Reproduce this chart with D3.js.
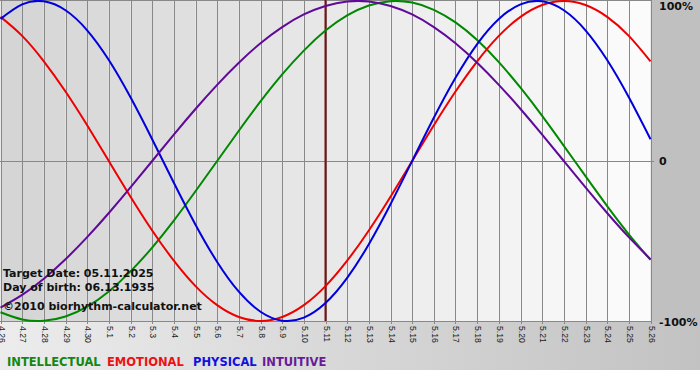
<!DOCTYPE html>
<html><head><meta charset="utf-8">
<script src="https://cdn.jsdelivr.net/npm/d3@7"></script>
<style>html,body{margin:0;padding:0;background:#fff;}svg{display:block;}</style>
</head><body>
<script>
const dayLabels = ["4.26","4.27","4.28","4.29","4.30","5.1","5.2","5.3","5.4","5.5","5.6","5.7","5.8","5.9","5.10","5.11","5.12","5.13","5.14","5.15","5.16","5.17","5.18","5.19","5.20","5.21","5.22","5.23","5.24","5.25","5.26"];
const physical = [88.8,97.9,99.8,94.2,81.7,63.1,39.8,13.6,-13.6,-39.8,-63.1,-81.7,-94.2,-99.8,-97.9,-88.8,-73.1,-52.0,-27.0,0,27.0,52.0,73.1,88.8,97.9,99.8,94.2,81.7,63.1,39.8,13.6];
const emotional = [90.1,78.2,62.3,43.4,22.3,0,-22.3,-43.4,-62.3,-78.2,-90.1,-97.5,-100,-97.5,-90.1,-78.2,-62.3,-43.4,-22.3,0,22.3,43.4,62.3,78.2,90.1,97.5,100,97.5,90.1,78.2,62.3];
const intellectual = [-94.5,-99.0,-99.9,-97.2,-91.0,-81.5,-69.0,-54.1,-37.2,-18.9,0,18.9,37.2,54.1,69.0,81.5,91.0,97.2,99.9,99.0,94.5,86.6,75.6,61.8,45.8,28.2,9.5,-9.5,-28.2,-45.8,-61.8];
const intuitive = [-91.6,-83.7,-73.6,-61.4,-47.6,-32.5,-16.5,0,16.5,32.5,47.6,61.4,73.6,83.7,91.6,96.9,99.7,99.7,96.9,91.6,83.7,73.6,61.4,47.6,32.5,16.5,0,-16.5,-32.5,-47.6,-61.4];
const percentTicks = [100, 0, -100];
const percentLabels = ["100%", "0", "-100%"];
const targetIndex = 15;
const infoLines = ["Target Date: 05.11.2025", "Day of birth: 06.13.1935", "\u00a92010 biorhythm-calculator.net"];
const legendNames = ["INTELLECTUAL", "EMOTIONAL", "PHYSICAL", "INTUITIVE"];

const W = 700, H = 380;
const pLeft = 0.5, pRight = 650.5, pTop = 1, pBottom = 321;
const x = d3.scaleLinear().domain([0, dayLabels.length - 1]).range([pLeft, pRight]);
const y = d3.scaleLinear().domain([-100, 100]).range([pBottom, pTop]);

const svg = d3.select("body").append("svg").attr("width", W).attr("height", H);

// backgrounds
const defs = svg.append("defs");
const g1 = defs.append("linearGradient").attr("id", "bottomGrad").attr("x1", "0").attr("x2", "1").attr("y1", "0").attr("y2", "0");
g1.append("stop").attr("offset", "0").attr("stop-color", "#ececec");
g1.append("stop").attr("offset", "1").attr("stop-color", "#c2c2c2");
svg.append("rect").attr("x", 0).attr("y", pBottom).attr("width", W).attr("height", 370 - pBottom).attr("fill", "url(#bottomGrad)");
svg.append("rect").attr("x", pRight).attr("y", 0).attr("width", W - pRight).attr("height", pBottom).attr("fill", "#c0c0c0");

const shade = d3.interpolateRgb("#d5d5d5", "#fbfbfb");
const cols = d3.range(dayLabels.length - 1);
svg.append("g").selectAll("rect").data(cols).join("rect")
  .attr("x", d => x(d)).attr("y", 0)
  .attr("width", d => x(d + 1) - x(d)).attr("height", pBottom)
  .attr("fill", d => shade(d / (cols.length - 1)));

// grid
const grid = svg.append("g").attr("stroke", "#888").attr("stroke-width", 1).attr("shape-rendering", "crispEdges");
grid.selectAll("line.v").data(d3.range(dayLabels.length)).join("line").attr("class", "v")
  .attr("x1", d => Math.round(x(d)) + 0.5).attr("x2", d => Math.round(x(d)) + 0.5)
  .attr("y1", 0).attr("y2", pBottom + 3);
grid.append("line").attr("x1", 0).attr("x2", pRight).attr("y1", 0.5).attr("y2", 0.5);
grid.append("line").attr("x1", 0).attr("x2", pRight).attr("y1", pBottom + 0.5).attr("y2", pBottom + 0.5);
grid.append("line").attr("x1", 0).attr("x2", pRight + 3).attr("y1", Math.round(y(0)) + 0.5).attr("y2", Math.round(y(0)) + 0.5);

// x labels
svg.append("g").selectAll("text").data(dayLabels).join("text")
  .attr("transform", (d, i) => `translate(${Math.round(x(i)) + 0.5},${pBottom + 5}) rotate(90)`)
  .attr("dominant-baseline", "central")
  .attr("font-family", "Liberation Sans Narrow, Liberation Sans, Arial, sans-serif").attr("font-size", "8.6px").attr("fill", "#1a1a1a")
  .text(d => d);

// target line
svg.append("line").attr("x1", x(targetIndex)).attr("x2", x(targetIndex))
  .attr("y1", 0).attr("y2", pBottom).attr("stroke", "#7a1010").attr("stroke-width", 2);

// curves
const line = d3.line().x((d, i) => x(i)).y(d => y(d)).curve(d3.curveNatural);
const series = [
  {v: intellectual, c: "#008800"},
  {v: emotional, c: "#ee0000"},
  {v: physical, c: "#0000dd"},
  {v: intuitive, c: "#5f0a99"}
];
const plot = svg.append("g");
plot.selectAll("path").data(series).join("path")
  .attr("d", d => line(d.v)).attr("fill", "none")
  .attr("stroke", d => d.c).attr("stroke-width", 2);

// right labels
const rb = [10, 165, 326];
svg.append("g").selectAll("text").data(percentTicks).join("text")
  .attr("x", 659).attr("y", (d, i) => rb[i])
  .attr("font-family", "DejaVu Sans, Verdana, sans-serif").attr("font-weight", "bold").attr("font-size", "11px").attr("fill", "#111")
  .text((d, i) => percentLabels[i]);

// info text
const infoY = [276.5, 291, 310];
svg.append("g").selectAll("text").data(infoLines).join("text")
  .attr("x", 3).attr("y", (d, i) => infoY[i])
  .attr("font-family", "DejaVu Sans, Verdana, sans-serif").attr("font-weight", "bold").attr("font-size", "11px").attr("fill", "#111")
  .text(d => d);

// legend
const legX = [7, 107, 193, 262];
const legC = ["#118811", "#ee1111", "#1111dd", "#6a1a9a"];
svg.append("g").selectAll("text").data(legendNames).join("text")
  .attr("x", (d, i) => legX[i]).attr("y", 366)
  .attr("font-family", "DejaVu Sans, Verdana, sans-serif").attr("font-weight", "bold").attr("font-size", "11.5px")
  .attr("fill", (d, i) => legC[i])
  .text(d => d);
</script>
</body></html>
